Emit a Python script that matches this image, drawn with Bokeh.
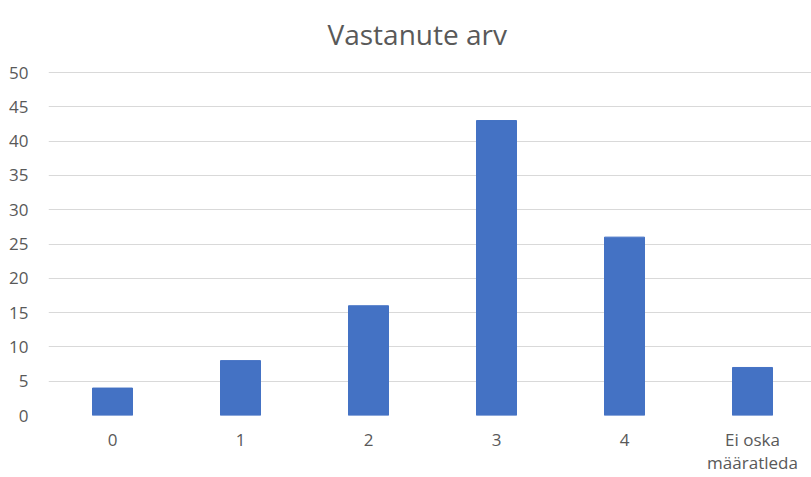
from bokeh.plotting import figure
from bokeh.models import Range1d, FixedTicker, ColumnDataSource, Label
from bokeh.embed import file_html
from bokeh.resources import INLINE

title_text = "Vastanute arv"
categories = ["0", "1", "2", "3", "4", "Ei oska\nmääratleda"]
values = [4, 8, 16, 43, 26, 7]
y_ticks = [0, 5, 10, 15, 20, 25, 30, 35, 40, 45, 50]

W, H = 811, 477
left, bottom = 48, 62
step = 128
frame_h = H - bottom          # frame spans from the canvas top to the axis
px_per_unit = 343 / 50
frame_w = W - left
xs = list(range(len(categories)))

p = figure(width=W, height=H, output_backend="svg", toolbar_location=None,
           x_range=Range1d(-0.5, -0.5 + frame_w / step),
           y_range=Range1d(0, frame_h / px_per_unit),
           min_border_left=left, min_border_right=0, min_border_top=0,
           min_border_bottom=bottom)

# title placed inside the (extended) frame; screen units are relative to the frame's lower-left
p.add_layout(Label(x=279, y=frame_h - 33, x_units="screen", y_units="screen",
                   text=title_text, text_font="Open Sans", text_font_size="28px",
                   text_color="#595959", text_baseline="alphabetic", text_align="left"))

src = ColumnDataSource(dict(x=xs, top=values))
p.vbar(x="x", top="top", width=0.3125, bottom=0, source=src, color="#4472c4")

p.outline_line_color = None
p.background_fill_color = "white"
p.border_fill_color = "white"

p.xgrid.grid_line_color = None
p.ygrid.grid_line_color = "#d9d9d9"
p.ygrid.grid_line_width = 1
p.yaxis.ticker = FixedTicker(ticks=y_ticks)
p.xaxis.ticker = FixedTicker(ticks=xs)
p.xaxis.major_label_overrides = {i: c for i, c in enumerate(categories)}

for ax in (p.xaxis[0], p.yaxis[0]):
    ax.axis_line_color = None
    ax.major_tick_line_color = None
    ax.minor_tick_line_color = None
    ax.major_tick_out = 0
    ax.minor_tick_out = 0
    ax.major_label_text_font = "Open Sans"
    ax.major_label_text_font_size = "17px"
    ax.major_label_text_color = "#595959"
p.xaxis.major_label_text_line_height = 1.0
p.yaxis.major_label_standoff = 20
p.xaxis.major_label_standoff = 12

open("out.html", "w").write(file_html(p, INLINE))
